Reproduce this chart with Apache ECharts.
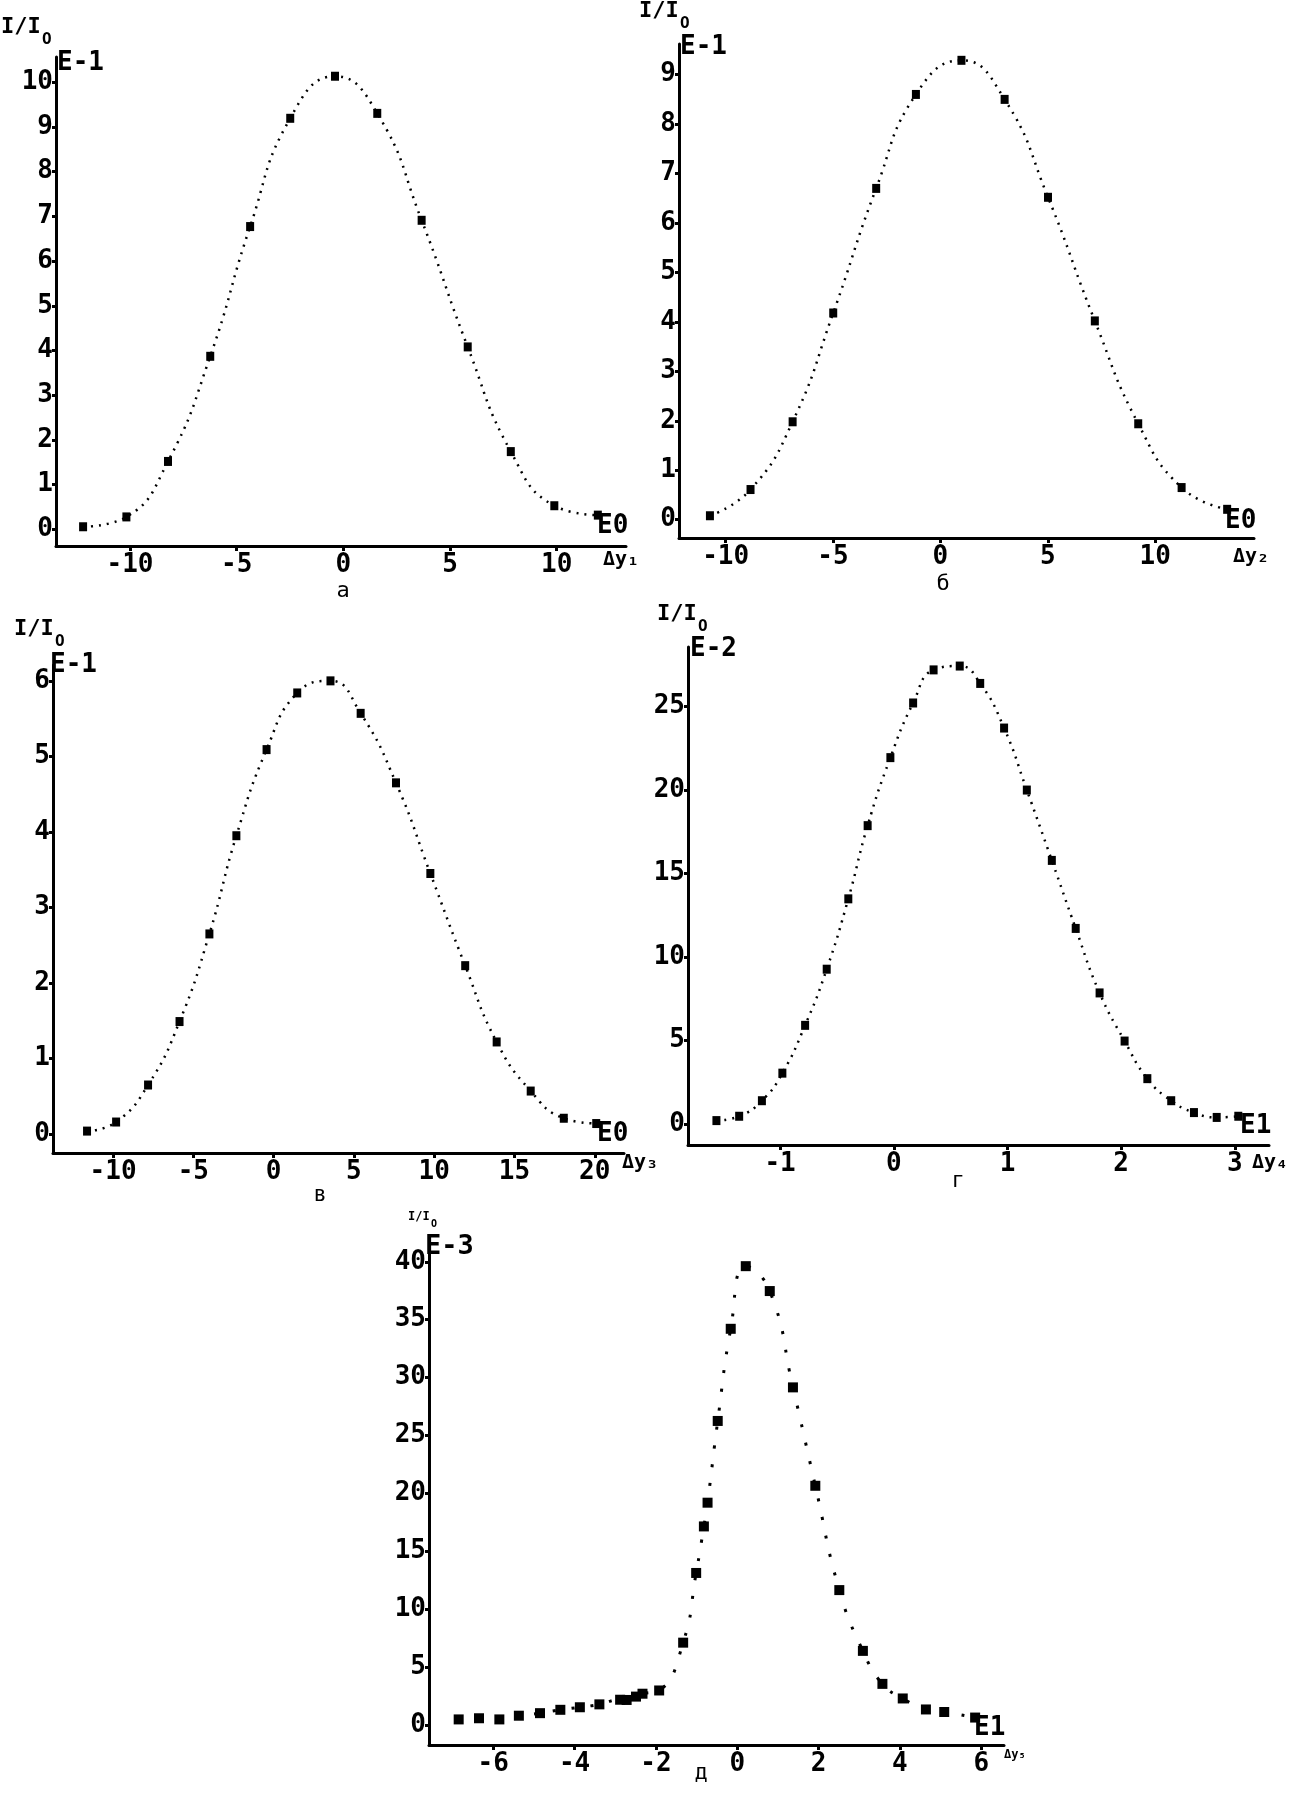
<!DOCTYPE html>
<html>
<head>
<meta charset="utf-8">
<script src="https://cdn.jsdelivr.net/npm/echarts@6/dist/echarts.min.js"></script>
<style>
  html, body { margin: 0; padding: 0; background: #fff; }
  #main { width: 1293px; height: 1794px; }
</style>
</head>
<body>
<div id="main"></div>
<script>
// panel а
const xA = [-12.2, -10.17, -8.22, -6.24, -4.37, -2.49, -0.39, 1.59, 3.67, 5.83, 7.85, 9.89, 11.93];
const yA = [0.06, 0.28, 1.52, 3.87, 6.77, 9.19, 10.13, 9.3, 6.91, 4.08, 1.74, 0.53, 0.32];
const xTicksA = [-10, -5, 0, 5, 10];
const yTicksA = [0, 1, 2, 3, 4, 5, 6, 7, 8, 9, 10];

// panel б
const xB = [-10.73, -8.84, -6.88, -4.99, -2.99, -1.14, 0.98, 2.99, 5.01, 7.19, 9.21, 11.23, 13.35];
const yB = [0.08, 0.61, 1.98, 4.18, 6.7, 8.6, 9.29, 8.5, 6.52, 4.02, 1.94, 0.65, 0.21];
const xTicksB = [-10, -5, 0, 5, 10];
const yTicksB = [0, 1, 2, 3, 4, 5, 6, 7, 8, 9];

// panel в
const xV = [-11.62, -9.81, -7.82, -5.86, -4.0, -2.32, -0.44, 1.47, 3.54, 5.42, 7.62, 9.76, 11.93, 13.89, 16.01, 18.07, 20.09];
const yV = [0.04, 0.16, 0.65, 1.49, 2.65, 3.95, 5.09, 5.84, 6.0, 5.57, 4.65, 3.45, 2.23, 1.22, 0.57, 0.21, 0.14];
const xTicksV = [-10, -5, 0, 5, 10, 15, 20];
const yTicksV = [0, 1, 2, 3, 4, 5, 6];

// panel г
const xG = [-1.56, -1.36, -1.16, -0.98, -0.78, -0.59, -0.4, -0.23, -0.03, 0.17, 0.35, 0.58, 0.76, 0.97, 1.17, 1.39, 1.6, 1.81, 2.03, 2.23, 2.44, 2.64, 2.84, 3.03];
const yG = [0.21, 0.47, 1.4, 3.05, 5.91, 9.27, 13.48, 17.86, 21.93, 25.2, 27.18, 27.41, 26.37, 23.7, 19.99, 15.78, 11.71, 7.85, 4.97, 2.72, 1.4, 0.69, 0.4, 0.47];
const xTicksG = [-1, 0, 1, 2, 3];
const yTicksG = [0, 5, 10, 15, 20, 25];

// panel д
const xD = [-6.85, -6.35, -5.85, -5.37, -4.85, -4.35, -3.87, -3.39, -2.88, -2.72, -2.49, -2.33, -1.92, -1.33, -1.01, -0.82, -0.73, -0.48, -0.16, 0.21, 0.8, 1.37, 1.92, 2.51, 3.09, 3.57, 4.07, 4.64, 5.09, 5.85];
const yD = [0.47, 0.57, 0.47, 0.79, 1.01, 1.3, 1.52, 1.77, 2.17, 2.15, 2.44, 2.69, 2.97, 7.1, 13.12, 17.14, 19.19, 26.25, 34.21, 39.62, 37.47, 29.15, 20.65, 11.64, 6.39, 3.54, 2.28, 1.33, 1.11, 0.63];
const xTicksD = [-6, -4, -2, 0, 2, 4, 6];
const yTicksD = [0, 5, 10, 15, 20, 25, 30, 35, 40];

const MONO = "'DejaVu Sans Mono', monospace";

const panels = [
  { xs: xA, ys: yA, xt: xTicksA, yt: yTicksA, grid: { left: 56, top: 57, width: 570, height: 489 },
    xr: [-13.47, 13.25], yr: [-0.37, 10.56], dash: [2, 6], lw: 2.5, sym: [8, 9] },
  { xs: xB, ys: yB, xt: xTicksB, yt: yTicksB, grid: { left: 679, top: 44, width: 575, height: 494 },
    xr: [-12.17, 14.6], yr: [-0.37, 9.62], dash: [2, 6], lw: 2.5, sym: [8, 9] },
  { xs: xV, ys: yV, xt: xTicksV, yt: yTicksV, grid: { left: 53, top: 665, width: 571, height: 488 },
    xr: [-13.74, 21.82], yr: [-0.25, 6.21], dash: [2, 6], lw: 2.5, sym: [8, 9] },
  { xs: xG, ys: yG, xt: xTicksG, yt: yTicksG, grid: { left: 688, top: 647, width: 581, height: 498 },
    xr: [-1.81, 3.3], yr: [-1.25, 28.55], dash: [2, 6], lw: 2.5, sym: [8, 9] },
  { xs: xD, ys: yD, xt: xTicksD, yt: yTicksD, grid: { left: 429, top: 1251, width: 575, height: 494 },
    xr: [-7.58, 6.56], yr: [-1.74, 40.93], dash: [3, 16], lw: 3, sym: [10, 10] },
];

const axisLineStyle = { color: "#000", width: 3 };
const labelStyle = { color: "#000", fontFamily: MONO, fontWeight: "bold", fontSize: 26 };

const grid = panels.map((p) => p.grid);
const xAxis = panels.map((p, i) => ({
  type: "value",
  gridIndex: i,
  min: p.xr[0],
  max: p.xr[1],
  axisLine: { show: true, onZero: false, lineStyle: axisLineStyle },
  axisTick: { show: true, customValues: p.xt, length: 5, lineStyle: { color: "#000", width: 3 } },
  axisLabel: { ...labelStyle, customValues: p.xt, margin: 6 },
  splitLine: { show: false },
}));
const yAxis = panels.map((p, i) => ({
  type: "value",
  gridIndex: i,
  min: p.yr[0],
  max: p.yr[1],
  axisLine: { show: true, onZero: false, lineStyle: axisLineStyle },
  axisTick: { show: true, customValues: p.yt, length: 4, lineStyle: { color: "#000", width: 3 } },
  axisLabel: { ...labelStyle, customValues: p.yt, margin: 3 },
  splitLine: { show: false },
}));
const series = panels.map((p, i) => ({
  type: "line",
  xAxisIndex: i,
  yAxisIndex: i,
  data: p.xs.map((x, k) => [x, p.ys[k]]),
  smooth: 0.5,
  symbol: "rect",
  symbolSize: p.sym,
  itemStyle: { color: "#000" },
  lineStyle: { color: "#000", width: p.lw, type: p.dash },
}));

// text annotations: [text, x, y, size, bold, align]
const notes = [
  ["I/I", 1, 16, 22, true], ["O", 42, 32, 16, true], ["E-1", 57, 50, 26, true],
  ["E0", 597, 513, 26, true], ["Δy₁", 603, 550, 20, true], ["а", 343, 580, 22, false, "center"],

  ["I/I", 639, 0, 22, true], ["O", 680, 16, 16, true], ["E-1", 680, 34, 26, true],
  ["E0", 1225, 508, 26, true], ["Δy₂", 1233, 547, 20, true], ["б", 943, 573, 22, false, "center"],

  ["I/I", 14, 618, 22, true], ["O", 55, 634, 16, true], ["E-1", 50, 652, 26, true],
  ["E0", 597, 1121, 26, true], ["Δy₃", 622, 1153, 20, true], ["в", 320, 1184, 22, false, "center"],

  ["I/I", 657, 603, 22, true], ["O", 698, 619, 16, true], ["E-2", 690, 636, 26, true],
  ["E1", 1240, 1113, 26, true], ["Δy₄", 1252, 1153, 20, true], ["г", 958, 1170, 22, false, "center"],

  ["I/I", 408, 1211, 12, true], ["O", 431, 1219, 10, true], ["E-3", 425, 1233, 27, true],
  ["E1", 974, 1715, 26, true], ["Δy₅", 1004, 1749, 12, true], ["д", 701, 1762, 22, false, "center"],
];

const graphic = notes.map(([text, x, y, size, bold, align]) => ({
  type: "text",
  x: x,
  y: y,
  style: {
    text: text,
    fill: "#000",
    font: (bold ? "bold " : "") + size + "px " + MONO,
    align: align || "left",
    verticalAlign: "top",
  },
}));

const chart = echarts.init(document.getElementById("main"));
chart.setOption({
  animation: false,
  backgroundColor: "#fff",
  grid: grid,
  xAxis: xAxis,
  yAxis: yAxis,
  series: series,
  graphic: graphic,
});
</script>
</body>
</html>
